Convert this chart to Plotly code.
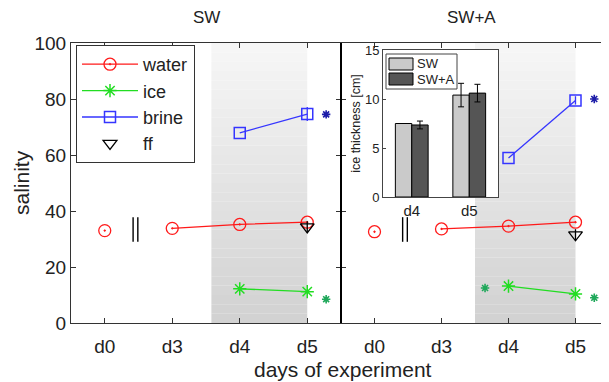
import plotly.graph_objects as go

# ---------------- data ----------------
days = ['d0', 'd3', 'd4', 'd5']
day_pos = [1, 2, 3, 4]

sw_water = [33.0, 33.8, 35.2, 36.0]
sw_ice = [12.2, 11.2]          # d4, d5
sw_brine = [67.9, 74.6]        # d4, d5
sw_brine_err = [0.0, 2.5]
sw_ff = [34.3]                 # d5
sw_ff_err = [2.0]

swa_water = [32.6, 33.6, 34.6, 36.0]
swa_ice = [13.2, 10.4]
swa_brine = [58.9, 79.5]
swa_brine_err = [0.0, 1.5]
swa_ff = [31.5]
swa_ff_err = [2.0]

# significance asterisks: (day, value, series)
sw_sig_day = ['d5', 'd5']
sw_sig_val = [74.5, 8.5]
sw_sig_series = ['brine', 'ice']
swa_sig_day = ['d5', 'd5', 'd4']
swa_sig_val = [80.0, 9.0, 12.5]
swa_sig_series = ['brine', 'ice', 'ice']
sig_offset = {'d5': 0.28, 'd4': -0.35}

# inset: ice thickness
thick_days = ['d4', 'd5']
thick_groups = ['SW', 'SW+A']
thick_sw = [7.5, 10.4]
thick_sw_err = [0.0, 1.2]
thick_swa = [7.35, 10.6]
thick_swa_err = [0.4, 0.9]

# ---------------- style ----------------
RED = '#ff1a1a'
GREEN = '#22dd22'
BLUE = '#3535ff'
SIGC = {'brine': '#1c1ca8', 'ice': '#1fa85a'}
BARC = ['#cacaca', '#555555']
FONT = 'Liberation Sans, Arial, sans-serif'
AX = '#333333'

W, H = 609, 382
OFF = 8  # page body margin compensation
def px(x): return (x - OFF) / W
def py(y): return 1 - (y - OFF) / H

fig = go.Figure()
pos = dict(zip(days, day_pos))

def add_panel(xa, ya, water, ice, brine, brine_err, ff, ff_err,
              sig_day, sig_val, sig_series, legend):
    fig.add_trace(go.Scatter(
        x=day_pos[:1], y=water[:1], mode='markers', xaxis=xa, yaxis=ya,
        marker=dict(symbol='circle-open-dot', size=12, color=RED, line=dict(width=1.3)),
        showlegend=False, hoverinfo='skip'))
    fig.add_trace(go.Scatter(
        x=day_pos[1:], y=water[1:], mode='lines+markers', xaxis=xa, yaxis=ya,
        name='water', showlegend=legend,
        line=dict(color=RED, width=1.3),
        marker=dict(symbol='circle-open-dot', size=12, color=RED, line=dict(width=1.3))))
    fig.add_trace(go.Scatter(
        x=day_pos[2:], y=ice, mode='lines+markers', xaxis=xa, yaxis=ya,
        name='ice', showlegend=legend,
        line=dict(color=GREEN, width=1.3),
        marker=dict(symbol='asterisk-open', size=11, color=GREEN, line=dict(width=1.5, color=GREEN))))
    fig.add_trace(go.Scatter(
        x=day_pos[2:], y=brine, mode='lines+markers', xaxis=xa, yaxis=ya,
        name='brine', showlegend=legend,
        error_y=dict(type='data', array=brine_err, color=BLUE, thickness=1.3, width=0),
        line=dict(color=BLUE, width=1.3),
        marker=dict(symbol='square-open', size=11, color=BLUE, line=dict(width=1.5))))
    fig.add_trace(go.Scatter(
        x=day_pos[3:], y=ff, mode='markers', xaxis=xa, yaxis=ya,
        name='ff', showlegend=legend,
        error_y=dict(type='data', array=ff_err, color='black', thickness=1.3, width=0),
        marker=dict(symbol='triangle-down-open', size=12, color='black', line=dict(width=1.3))))
    for s in ('brine', 'ice'):
        xs = [pos[d] + sig_offset[d] for d, ser in zip(sig_day, sig_series) if ser == s]
        ys = [v for v, ser in zip(sig_val, sig_series) if ser == s]
        fig.add_trace(go.Scatter(
            x=xs, y=ys, mode='markers', xaxis=xa, yaxis=ya, showlegend=False,
            marker=dict(symbol='asterisk-open', size=7, color=SIGC[s],
                        line=dict(width=1.6, color=SIGC[s])), hoverinfo='skip'))

add_panel('x', 'y', sw_water, sw_ice, sw_brine, sw_brine_err, sw_ff, sw_ff_err,
          sw_sig_day, sw_sig_val, sw_sig_series, True)
add_panel('x2', 'y2', swa_water, swa_ice, swa_brine, swa_brine_err, swa_ff, swa_ff_err,
          swa_sig_day, swa_sig_val, swa_sig_series, False)

# inset bars
for name, vals, errs, col in ((thick_groups[0], thick_sw, thick_sw_err, BARC[0]),
                              (thick_groups[1], thick_swa, thick_swa_err, BARC[1])):
    fig.add_trace(go.Bar(
        x=[1, 2], y=vals, name=name, xaxis='x3', yaxis='y3', showlegend=False,
        marker=dict(color=col, line=dict(color='black', width=1)),
        error_y=dict(type='data', array=errs, color='black', thickness=1, width=3)))

# ---------------- shapes ----------------
shapes = []
nb = 30
for xr, yr, x0 in (('x', 'y', 2.58), ('x2', 'y2', 2.5)):
    for i in range(nb):
        t = i / (nb - 1)
        g = int(round(0xd2 + (0xf6 - 0xd2) * t))
        shapes.append(dict(type='rect', xref=xr, yref=yr, x0=x0, x1=4,
                           y0=100 * i / nb, y1=100 * (i + 1) / nb,
                           fillcolor=f'rgb({g},{g},{g})', line=dict(width=0), layer='below'))
    for bx in (1.42, 1.49):
        shapes.append(dict(type='line', xref=xr, yref=yr, x0=bx, x1=bx, y0=29, y1=37.8,
                           line=dict(color='black', width=1.4)))
shapes.append(dict(type='line', xref='paper', yref='paper', x0=px(341), x1=px(341),
                   y0=py(323), y1=py(43), line=dict(color='black', width=2)))

# inset legend (box + swatches)
shapes.append(dict(type='rect', xref='paper', yref='paper', x0=px(386), x1=px(457),
                   y0=py(89), y1=py(54), fillcolor='white', line=dict(color='#444', width=1)))
for i, col in enumerate(BARC):
    shapes.append(dict(type='rect', xref='paper', yref='paper', x0=px(389), x1=px(413),
                       y0=py(70 + 15 * i), y1=py(58 + 15 * i), fillcolor=col,
                       line=dict(color='black', width=1)))

annotations = [
    dict(text='SW', x=px(206), y=py(18), xref='paper', yref='paper', yanchor='middle',
         xanchor='center', showarrow=False, font=dict(size=17)),
    dict(text='SW+A', x=px(471), y=py(18), xref='paper', yref='paper', yanchor='middle',
         xanchor='center', showarrow=False, font=dict(size=17)),
    dict(text='days of experiment', x=px(343), y=py(369), xref='paper', yref='paper',
         xanchor='center', yanchor='middle', showarrow=False, font=dict(size=21)),
    dict(text='salinity', x=px(22), y=py(183), xref='paper', yref='paper', yanchor='middle',
         xanchor='center', showarrow=False, textangle=-90, font=dict(size=21)),
]
for i, g in enumerate(thick_groups):
    annotations.append(dict(text=g, x=px(415), y=py(64 + 15 * i), xref='paper', yref='paper',
                            xanchor='left', yanchor='middle', showarrow=False,
                            font=dict(size=13)))

# ---------------- layout ----------------
xdom_l = [px(71), px(341)]
xdom_r = [px(341), px(609)]
ydom = [py(323), py(43)]

xcommon = dict(range=[0.5, 4.5], tickvals=day_pos, ticktext=days, showline=True,
               mirror='ticks', linecolor=AX, linewidth=1, ticks='inside', ticklen=5,
               tickcolor=AX, showgrid=False, zeroline=False, ticklabelstandoff=6,
               tickfont=dict(size=19, color='#222'), fixedrange=True, automargin=False)
ycommon = dict(range=[0, 100], tickvals=[0, 20, 40, 60, 80, 100], showline=True,
               mirror='ticks', linecolor=AX, linewidth=1, ticks='inside', ticklen=5,
               tickcolor=AX, showgrid=False, zeroline=False,
               tickfont=dict(size=19, color='#222'), fixedrange=True, automargin=False)

fig.update_layout(
    width=W, height=H, margin=dict(l=0, r=0, t=0, b=0, autoexpand=False),
    paper_bgcolor='white', plot_bgcolor='white',
    font=dict(family=FONT, color='#222'),
    xaxis=dict(domain=xdom_l, anchor='y', **xcommon),
    yaxis=dict(domain=ydom, anchor='x', **ycommon),
    xaxis2=dict(domain=xdom_r, anchor='y2', **xcommon),
    yaxis2=dict(domain=ydom, anchor='x2', showticklabels=False, **ycommon),
    xaxis3=dict(domain=[px(383), px(498)], anchor='y3', range=[0.5, 2.5],
                tickvals=[1, 2], ticktext=thick_days, showline=True, mirror=True,
                linecolor='#444', ticks='', showgrid=False, zeroline=False,
                tickfont=dict(size=15), fixedrange=True, automargin=False),
    yaxis3=dict(domain=[py(197), py(50)], anchor='x3', range=[0, 15],
                tickvals=[0, 5, 10, 15], showline=True, mirror=True, linecolor='#444',
                ticks='inside', ticklen=3, tickcolor='#444', showgrid=False, zeroline=False,
                tickfont=dict(size=13), fixedrange=True, automargin=False,
                title=dict(text='ice thickness [cm]', font=dict(size=12.5), standoff=1)),
    barmode='group', bargap=0.43, bargroupgap=0,
    legend=dict(x=px(76), y=py(45), xanchor='left', yanchor='top',
                bgcolor='white', bordercolor='#333', borderwidth=1,
                font=dict(size=18, color='#222'), itemwidth=56, tracegroupgap=0),
    shapes=shapes,
    annotations=annotations,
)

fig.write_html('out.html')
